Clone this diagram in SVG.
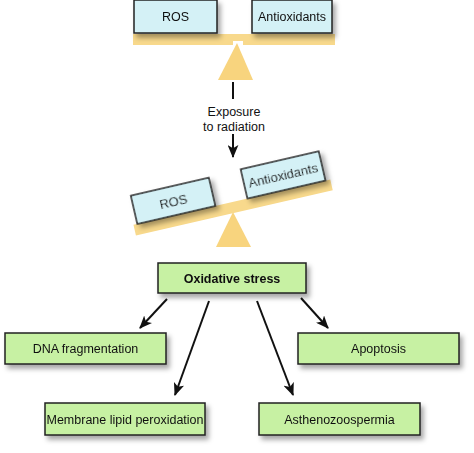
<svg xmlns="http://www.w3.org/2000/svg" width="474" height="453" viewBox="0 0 474 453">
<defs>
<filter id="sh" x="-10%" y="-20%" width="130%" height="160%">
<feDropShadow dx="3" dy="4" stdDeviation="2.5" flood-color="#000" flood-opacity="0.35"/>
</filter>
<marker id="ah" viewBox="0 0 12 10" refX="11" refY="5" markerWidth="13" markerHeight="11" markerUnits="userSpaceOnUse" orient="auto">
<path d="M0,0 L12,5 L0,10 L3,5 Z" fill="#111"/>
</marker>
<style>
.g{fill:#c7f1a3;stroke:#222;stroke-width:1.5}
.b{fill:#d4f1f6;stroke:#222;stroke-width:1.5}
.beam{fill:#f8d98c}
.ful{fill:#f8d47e}
.t{font-family:"Liberation Sans",Arial,sans-serif;font-size:12.5px;fill:#111;text-anchor:middle}
.bold{font-weight:bold}
.big{font-size:13px}
.c{stroke:#111;stroke-width:2;fill:none}
</style>
</defs>
<g id="scale-balanced">
<rect class="beam" x="133" y="34" width="202" height="11"/>
<rect x="233" y="41" width="10" height="4" fill="#fff"/>
<polygon class="ful" points="237,43 218,80 253,80"/>
</g>
<g id="ros-top" filter="url(#sh)">
<rect class="b" x="134" y="0" width="83" height="33"/>
<text class="t" x="175.5" y="21">ROS</text>
</g>
<g id="antioxidants-top" filter="url(#sh)">
<rect class="b" x="252" y="0" width="80" height="33"/>
<text class="t" x="292" y="21">Antioxidants</text>
</g>
<g id="exposure">
<text class="t" x="234" y="116">Exposure</text>
<text class="t" x="234" y="131">to radiation</text>
</g>
<g id="scale-tilted">
<polygon class="ful" points="233,212 216,247 251,247"/>
<g transform="rotate(-13 233 207)">
<rect class="beam" x="132" y="202" width="202" height="11"/>
<g id="ros-tilted" filter="url(#sh)">
<rect class="b" x="136" y="173" width="80" height="29"/>
<text class="t big" x="176" y="192.5">ROS</text>
</g>
<g id="antioxidants-tilted" filter="url(#sh)">
<rect class="b" x="249" y="172" width="80" height="30"/>
<text class="t big" x="289" y="192">Antioxidants</text>
</g>
</g>
</g>
<g id="oxidative-stress" filter="url(#sh)">
<rect class="g" x="158" y="263" width="148" height="30"/>
<text class="t bold" x="232" y="283">Oxidative stress</text>
</g>
<g id="dna" filter="url(#sh)">
<rect class="g" x="5" y="333" width="161" height="31"/>
<text class="t" x="85.5" y="353">DNA fragmentation</text>
</g>
<g id="apoptosis" filter="url(#sh)">
<rect class="g" x="298" y="333" width="161" height="31"/>
<text class="t" x="378.5" y="353">Apoptosis</text>
</g>
<g id="membrane" filter="url(#sh)">
<rect class="g" x="45" y="403" width="160" height="32"/>
<text class="t" x="125" y="424">Membrane lipid peroxidation</text>
</g>
<g id="astheno" filter="url(#sh)">
<rect class="g" x="259" y="403" width="161" height="32"/>
<text class="t" x="339.5" y="424">Asthenozoospermia</text>
</g>
<g id="connectors">
<line class="c" x1="233" y1="82" x2="233" y2="99"/>
<line class="c" x1="233" y1="134" x2="233" y2="157" marker-end="url(#ah)"/>
<line class="c" x1="167" y1="299" x2="140" y2="328" marker-end="url(#ah)"/>
<line class="c" x1="209" y1="301" x2="175" y2="395" marker-end="url(#ah)"/>
<line class="c" x1="257" y1="301" x2="293" y2="395" marker-end="url(#ah)"/>
<line class="c" x1="301" y1="298" x2="328" y2="328" marker-end="url(#ah)"/>
</g>
</svg>
